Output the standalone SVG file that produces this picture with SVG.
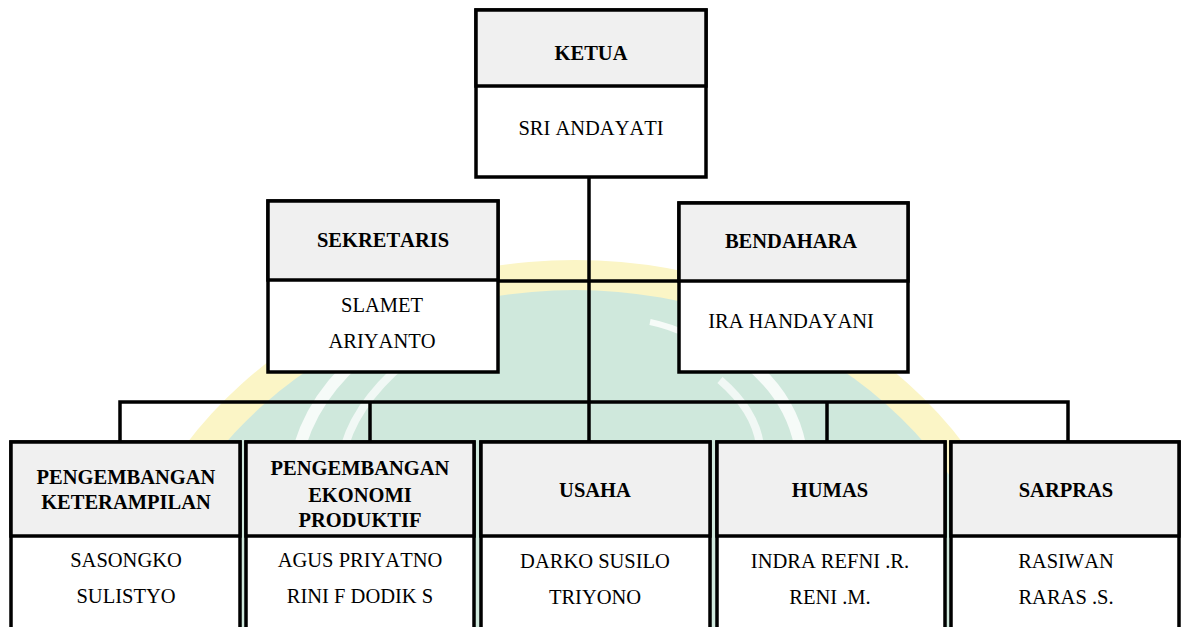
<svg xmlns="http://www.w3.org/2000/svg" width="1181" height="627" viewBox="0 0 1181 627">
<style>
.box{fill:#ffffff;stroke:#000;stroke-width:3.5}
.head{fill:#f0f0f0;stroke:#000;stroke-width:3.5}
.line{fill:none;stroke:#000;stroke-width:3.5}
.n{font-family:"Liberation Serif","Times New Roman",serif;font-size:20.5px;fill:#000;text-anchor:middle;font-kerning:none}
.t{font-weight:bold}
.arc{fill:none;stroke:#ffffff}
</style>
<rect x="0" y="0" width="1181" height="627" fill="#ffffff"/>
<g id="watermark">
<ellipse cx="575" cy="680" rx="470" ry="420" fill="#fbf5c6"/>
<ellipse cx="575" cy="680" rx="440" ry="390" fill="#cfe8dc"/>
<path class="arc" d="M300 445 Q320 380 390 335" stroke-width="12" opacity="0.8"/>
<path class="arc" d="M345 445 Q360 395 420 350" stroke-width="8" opacity="0.7"/>
<path class="arc" d="M745 360 Q790 395 800 445" stroke-width="12" opacity="0.8"/>
<path class="arc" d="M720 380 Q755 410 760 445" stroke-width="8" opacity="0.7"/>
<path class="arc" d="M650 322 Q670 326 690 336" stroke-width="6" opacity="0.8"/>
</g>
<g id="connectors">
<line class="line" x1="589" y1="177" x2="589" y2="402"/>
<line class="line" x1="498" y1="281" x2="679" y2="281"/>
<polyline class="line" points="120,441 120,402 1068,402 1068,441"/>
<line class="line" x1="370" y1="402" x2="370" y2="441"/>
<line class="line" x1="589" y1="402" x2="589" y2="441"/>
<line class="line" x1="827" y1="402" x2="827" y2="441"/>
</g>
<g id="ketua">
<rect class="box" x="476" y="10" width="230" height="167"/>
<rect class="head" x="476" y="10" width="230" height="76"/>
<text class="n t" x="591" y="60">KETUA</text>
<text class="n" x="591" y="135">SRI ANDAYATI</text>
</g>
<g id="sekretaris">
<rect class="box" x="268" y="201" width="230" height="171"/>
<rect class="head" x="268" y="201" width="230" height="79"/>
<text class="n t" x="383" y="247">SEKRETARIS</text>
<text class="n" x="382" y="312">SLAMET</text>
<text class="n" x="382" y="348">ARIYANTO</text>
</g>
<g id="bendahara">
<rect class="box" x="679" y="203" width="229" height="169"/>
<rect class="head" x="679" y="203" width="229" height="78"/>
<text class="n t" x="791" y="248">BENDAHARA</text>
<text class="n" x="791" y="328">IRA HANDAYANI</text>
</g>
<g id="keterampilan">
<rect class="box" x="11" y="442" width="229" height="200"/>
<rect class="head" x="11" y="442" width="229" height="94"/>
<text class="n t" x="126" y="484">PENGEMBANGAN</text>
<text class="n t" x="126" y="509">KETERAMPILAN</text>
<text class="n" x="126" y="567">SASONGKO</text>
<text class="n" x="126" y="603">SULISTYO</text>
</g>
<g id="ekonomi">
<rect class="box" x="246" y="442" width="228" height="200"/>
<rect class="head" x="246" y="442" width="228" height="94"/>
<text class="n t" x="360" y="475">PENGEMBANGAN</text>
<text class="n t" x="360" y="502">EKONOMI</text>
<text class="n t" x="360" y="527">PRODUKTIF</text>
<text class="n" x="360" y="567">AGUS PRIYATNO</text>
<text class="n" x="360" y="603">RINI F DODIK S</text>
</g>
<g id="usaha">
<rect class="box" x="481" y="442" width="229" height="200"/>
<rect class="head" x="481" y="442" width="229" height="94"/>
<text class="n t" x="595" y="497">USAHA</text>
<text class="n" x="595" y="568">DARKO SUSILO</text>
<text class="n" x="595" y="604">TRIYONO</text>
</g>
<g id="humas">
<rect class="box" x="717" y="442" width="228" height="200"/>
<rect class="head" x="717" y="442" width="228" height="94"/>
<text class="n t" x="830" y="497">HUMAS</text>
<text class="n" x="830" y="568">INDRA REFNI .R.</text>
<text class="n" x="830" y="604">RENI .M.</text>
</g>
<g id="sarpras">
<rect class="box" x="951" y="442" width="228" height="200"/>
<rect class="head" x="951" y="442" width="228" height="94"/>
<text class="n t" x="1066" y="497">SARPRAS</text>
<text class="n" x="1066" y="568">RASIWAN</text>
<text class="n" x="1066" y="604">RARAS .S.</text>
</g>
</svg>
